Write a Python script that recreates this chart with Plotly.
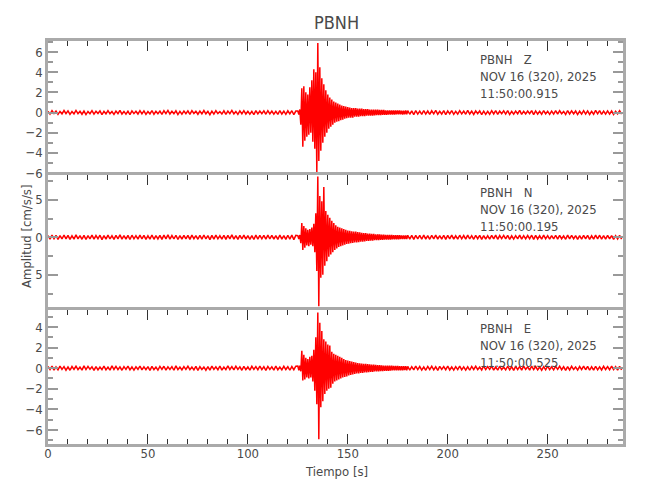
import numpy as np
import plotly.graph_objects as go

# ---------------- data ----------------
STATION = "PBNH"
COMPONENTS = ["Z", "N", "E"]
START_TIMES = ["11:50:00.915", "11:50:00.195", "11:50:00.525"]
DATE_LABEL = "NOV 16 (320), 2025"

PRE_T0, PRE_DT = 0.0, 1.0      # s
EVT_T0, EVT_DT = 125.0, 0.5    # s
POST_T0, POST_DT = 180.0, 1.0  # s

z_pre = [0.12,-0.15,0.18,-0.10,0.14,-0.19,0.11,-0.13,0.20,-0.12,
         0.16,-0.18,0.10,-0.14,0.21,-0.11,0.13,-0.17,0.15,-0.20,
         0.11,-0.12,0.19,-0.16,0.13,-0.10,0.17,-0.21,0.12,-0.14,
         0.18,-0.13,0.10,-0.19,0.15,-0.12,0.22,-0.15,0.11,-0.16,
         0.14,-0.20,0.17,-0.11,0.12,-0.15,0.19,-0.13,0.16,-0.18,
         0.10,-0.14,0.20,-0.17,0.13,-0.12,0.15,-0.19,0.18,-0.11,
         0.21,-0.15,0.12,-0.13,0.17,-0.20,0.11,-0.16,0.14,-0.12,
         0.16,-0.18,0.19,-0.10,0.13,-0.17,0.15,-0.14,0.20,-0.13,
         0.12,-0.21,0.14,-0.16,0.18,-0.11,0.10,-0.15,0.17,-0.19,
         0.15,-0.12,0.21,-0.14,0.11,-0.18,0.16,-0.13,0.19,-0.15,
         0.13,-0.17,0.12,-0.20,0.18,-0.14,0.14,-0.11,0.16,-0.17,
         0.19,-0.13,0.15,-0.16,0.12,-0.19,0.20,-0.15,0.13,-0.18,
         0.17,-0.14,0.18,-0.21,0.15]
z_event = [0.15,-0.20,0.30,-1.20,2.40,-3.40,2.60,-2.80,2.00,-2.40,
           1.80,-2.20,2.50,-2.00,3.20,-2.90,4.30,-3.60,4.00,-5.90,
           6.90,-4.80,4.50,-3.80,3.40,-3.00,2.80,-2.40,2.20,-2.00,
           1.80,-1.60,1.50,-1.40,1.30,-1.20,1.10,-1.00,1.00,-0.90,
           0.90,-0.85,0.80,-0.75,0.70,-0.70,0.65,-0.60,0.60,-0.55,
           0.55,-0.50,0.50,-0.50,0.45,-0.50,0.45,-0.40,0.45,-0.40,
           0.40,-0.40,0.40,-0.35,0.40,-0.35,0.35,-0.35,0.35,-0.30,
           0.35,-0.30,0.30,-0.30,0.30,-0.30,0.30,-0.28,0.28,-0.25,
           0.28,-0.25,0.25,-0.25,0.25,-0.22,0.25,-0.22,0.22,-0.22,
           0.22,-0.20,0.22,-0.20,0.20,-0.20,0.20,-0.20,0.20,-0.18,
           0.20,-0.18,0.20,-0.18,0.18,-0.20,0.18,-0.18,0.20,-0.18]
z_post = [0.19,-0.17,0.16,-0.20,0.18,-0.15,0.14,-0.18,0.20,-0.16,
          0.15,-0.19,0.17,-0.13,0.21,-0.17,0.13,-0.15,0.18,-0.20,
          0.16,-0.14,0.20,-0.18,0.12,-0.16,0.19,-0.13,0.15,-0.17,
          0.21,-0.15,0.13,-0.19,0.17,-0.12,0.16,-0.20,0.14,-0.18,
          0.12,-0.17,0.18,-0.14,0.20,-0.19,0.15,-0.11,0.17,-0.15,
          0.18,-0.20,0.11,-0.16,0.14,-0.13,0.21,-0.18,0.13,-0.14,
          0.15,-0.12,0.19,-0.21,0.16,-0.15,0.12,-0.17,0.20,-0.13,
          0.13,-0.18,0.14,-0.15,0.19,-0.16,0.18,-0.12,0.11,-0.19,
          0.20,-0.14,0.17,-0.13,0.15,-0.20,0.13,-0.16,0.18,-0.15,
          0.16,-0.19,0.12,-0.17,0.21,-0.13,0.19,-0.18,0.14,-0.16,
          0.17,-0.15,0.15,-0.19,0.13,-0.14,0.18,-0.16]

n_pre = [0.22,-0.25,0.28,-0.20,0.24,-0.29,0.21,-0.23,0.30,-0.22,
         0.26,-0.28,0.20,-0.24,0.31,-0.21,0.23,-0.27,0.25,-0.30,
         0.21,-0.22,0.29,-0.26,0.23,-0.20,0.27,-0.31,0.22,-0.24,
         0.28,-0.23,0.20,-0.29,0.25,-0.22,0.32,-0.25,0.21,-0.26,
         0.24,-0.30,0.27,-0.21,0.22,-0.25,0.29,-0.23,0.26,-0.28,
         0.20,-0.24,0.30,-0.27,0.23,-0.22,0.25,-0.29,0.28,-0.21,
         0.31,-0.25,0.22,-0.23,0.27,-0.30,0.21,-0.26,0.24,-0.22,
         0.26,-0.28,0.29,-0.20,0.23,-0.27,0.25,-0.24,0.30,-0.23,
         0.22,-0.31,0.24,-0.26,0.28,-0.21,0.20,-0.25,0.27,-0.29,
         0.25,-0.22,0.31,-0.24,0.21,-0.28,0.26,-0.23,0.29,-0.25,
         0.23,-0.27,0.22,-0.30,0.28,-0.24,0.24,-0.21,0.26,-0.27,
         0.29,-0.23,0.25,-0.26,0.22,-0.29,0.30,-0.25,0.23,-0.28,
         0.27,-0.24,0.28,-0.31,0.25]
n_event = [0.20,-0.25,0.30,-0.80,1.90,-1.70,1.50,-1.40,1.20,-1.10,
           1.00,-1.20,1.10,-1.00,1.30,-1.20,1.80,-2.00,3.20,-4.50,
           8.10,-9.20,5.50,-5.40,4.80,-5.00,6.70,-3.80,3.50,-3.20,
           3.00,-2.60,2.60,-2.30,2.20,-2.00,1.90,-1.70,1.60,-1.50,
           1.40,-1.30,1.30,-1.20,1.20,-1.10,1.10,-1.00,1.00,-0.90,
           0.90,-0.85,0.85,-0.80,0.80,-0.75,0.75,-0.70,0.75,-0.70,
           0.70,-0.65,0.65,-0.60,0.60,-0.60,0.55,-0.55,0.55,-0.50,
           0.50,-0.50,0.50,-0.45,0.45,-0.45,0.45,-0.40,0.40,-0.40,
           0.40,-0.38,0.38,-0.35,0.35,-0.35,0.35,-0.32,0.32,-0.30,
           0.32,-0.30,0.30,-0.30,0.30,-0.28,0.28,-0.28,0.28,-0.26,
           0.26,-0.26,0.26,-0.25,0.25,-0.25,0.25,-0.24,0.24,-0.24]
n_post = [0.27,-0.25,0.24,-0.28,0.26,-0.23,0.25,-0.27,0.29,-0.24,
          0.23,-0.27,0.25,-0.21,0.29,-0.25,0.22,-0.24,0.27,-0.28,
          0.24,-0.22,0.28,-0.26,0.20,-0.24,0.27,-0.21,0.23,-0.25,
          0.29,-0.23,0.21,-0.27,0.25,-0.20,0.24,-0.28,0.22,-0.26,
          0.20,-0.25,0.26,-0.22,0.28,-0.27,0.23,-0.19,0.25,-0.23,
          0.26,-0.28,0.19,-0.24,0.22,-0.21,0.29,-0.26,0.21,-0.22,
          0.23,-0.20,0.27,-0.29,0.24,-0.23,0.20,-0.25,0.28,-0.21,
          0.21,-0.26,0.22,-0.23,0.27,-0.24,0.26,-0.20,0.19,-0.27,
          0.28,-0.22,0.25,-0.21,0.23,-0.28,0.21,-0.24,0.26,-0.23,
          0.24,-0.27,0.20,-0.25,0.29,-0.21,0.27,-0.26,0.22,-0.24,
          0.25,-0.23,0.23,-0.27,0.21,-0.22,0.26,-0.24]

e_pre = [0.17,-0.14,0.20,-0.18,0.12,-0.16,0.21,-0.11,0.15,-0.19,
         0.13,-0.20,0.16,-0.12,0.19,-0.15,0.11,-0.18,0.22,-0.13,
         0.18,-0.11,0.14,-0.21,0.16,-0.17,0.12,-0.14,0.20,-0.16,
         0.11,-0.19,0.22,-0.13,0.17,-0.15,0.13,-0.20,0.15,-0.12,
         0.20,-0.16,0.12,-0.18,0.14,-0.11,0.21,-0.17,0.13,-0.15,
         0.16,-0.21,0.18,-0.14,0.11,-0.19,0.17,-0.12,0.19,-0.18,
         0.13,-0.12,0.15,-0.20,0.22,-0.14,0.12,-0.17,0.16,-0.11,
         0.19,-0.15,0.11,-0.16,0.18,-0.21,0.14,-0.13,0.12,-0.20,
         0.15,-0.18,0.20,-0.12,0.13,-0.16,0.21,-0.19,0.11,-0.14,
         0.22,-0.13,0.16,-0.17,0.19,-0.12,0.13,-0.20,0.17,-0.15,
         0.12,-0.19,0.18,-0.11,0.15,-0.16,0.20,-0.14,0.14,-0.21,
         0.17,-0.12,0.13,-0.18,0.21,-0.15,0.11,-0.17,0.18,-0.13,
         0.14,-0.20,0.16,-0.15,0.19]
e_event = [0.20,-0.20,0.25,-0.30,1.70,-1.20,1.30,-1.10,1.00,-0.90,
           0.90,-1.00,1.10,-0.90,1.20,-1.30,1.80,-2.20,3.00,-3.50,
           5.40,-6.90,4.40,-3.80,3.60,-3.20,2.80,-2.50,2.60,-2.20,
           2.30,-2.00,2.20,-1.90,1.60,-1.50,1.40,-1.30,1.30,-1.20,
           1.20,-1.10,1.10,-1.00,1.00,-0.90,0.90,-0.85,0.80,-0.80,
           0.75,-0.70,0.70,-0.65,0.65,-0.60,0.60,-0.55,0.55,-0.50,
           0.50,-0.50,0.48,-0.45,0.45,-0.45,0.42,-0.40,0.42,-0.40,
           0.40,-0.38,0.38,-0.35,0.35,-0.35,0.35,-0.32,0.32,-0.30,
           0.30,-0.30,0.30,-0.28,0.28,-0.28,0.26,-0.26,0.26,-0.25,
           0.25,-0.25,0.24,-0.24,0.24,-0.22,0.22,-0.22,0.22,-0.20,
           0.22,-0.20,0.20,-0.20,0.20,-0.20,0.20,-0.18,0.20,-0.20]
e_post = [0.18,-0.19,0.15,-0.17,0.20,-0.14,0.16,-0.18,0.13,-0.20,
          0.17,-0.13,0.19,-0.16,0.14,-0.21,0.18,-0.12,0.16,-0.15,
          0.21,-0.17,0.12,-0.19,0.15,-0.14,0.20,-0.16,0.13,-0.18,
          0.14,-0.20,0.17,-0.13,0.19,-0.15,0.11,-0.17,0.21,-0.14,
          0.16,-0.12,0.20,-0.18,0.13,-0.19,0.17,-0.15,0.12,-0.16,
          0.19,-0.15,0.14,-0.21,0.18,-0.13,0.15,-0.19,0.20,-0.12,
          0.13,-0.18,0.21,-0.14,0.16,-0.17,0.12,-0.20,0.15,-0.16,
          0.20,-0.14,0.13,-0.16,0.17,-0.12,0.19,-0.15,0.14,-0.21,
          0.15,-0.17,0.18,-0.13,0.12,-0.19,0.16,-0.14,0.21,-0.15,
          0.17,-0.20,0.14,-0.18,0.19,-0.16,0.13,-0.17,0.18,-0.13,
          0.16,-0.15,0.20,-0.14,0.15,-0.18,0.17,-0.16]

y_tickvals = [[-6, -4, -2, 0, 2, 4, 6], [-5, 0, 5], [-6, -4, -2, 0, 2, 4]]
y_ticktext = [["−6", "−4", "−2", "0", "2", "4", "6"], ["5", "0", "5"],
              ["−6", "−4", "−2", "0", "2", "4"]]
y_minor_dtick = [1, 2.5, 1]
y_ranges = [[-6.2, 7.1], [-9.7, 8.3], [-7.36, 5.65]]
x_range = [0, 287.7]
x_tickvals = [0, 50, 100, 150, 200, 250]

# ---------------- figure ----------------
FONT = "Liberation Sans Narrow, DejaVu Sans Condensed, Arial Narrow, sans-serif"
TXT = "#4a4a4a"
AXC = "#aaaaaa"
W, H = 650, 500
OFF = 8  # the page body margin shifts the figure by this many pixels
# target screen positions of the plot frame
L_PX, R_PX, T_PX, B_PX = 48, 623, 41, 444
ML, MR, MT, MB = L_PX - OFF, W - (R_PX - OFF), T_PX - OFF, H - (B_PX - OFF)
PW, PH = W - ML - MR, H - MT - MB


def px_x(px):
    return (px - L_PX) / PW


def px_y(py):
    return (B_PX - py) / PH


def series(pre, evt, post):
    t = np.concatenate([PRE_T0 + PRE_DT * np.arange(len(pre)),
                        EVT_T0 + EVT_DT * np.arange(len(evt)),
                        POST_T0 + POST_DT * np.arange(len(post))])
    v = np.concatenate([pre, evt, post])
    return t, v


data = [(z_pre, z_event, z_post), (n_pre, n_event, n_post), (e_pre, e_event, e_post)]
domains = [[px_y(175), 1.0], [px_y(310), px_y(175)], [0.0, px_y(310)]]

fig = go.Figure()
for i, (pre, evt, post) in enumerate(data):
    t, v = series(pre, evt, post)
    sfx = "" if i == 0 else str(i + 1)
    fig.add_trace(go.Scatter(x=t, y=v, mode="lines", xaxis="x" + sfx, yaxis="y" + sfx,
                             line=dict(color="#ff0000", width=1.5), showlegend=False,
                             hoverinfo="skip"))

layout = dict(
    width=W, height=H,
    margin=dict(l=ML, r=MR, t=MT, b=MB, autoexpand=False),
    paper_bgcolor="white", plot_bgcolor="white",
    font=dict(family=FONT, color=TXT, size=13),
    showlegend=False,
)

for i in range(3):
    sfx = "" if i == 0 else str(i + 1)
    last = (i == 2)
    xa = dict(
        domain=[0, 1], anchor="y" + sfx, range=x_range, automargin=False,
        showgrid=False, zeroline=False,
        showline=True, linecolor=AXC, linewidth=2.5,
        ticks="inside", ticklen=10, tickwidth=1, tickcolor="#333333",
        tickvals=x_tickvals,
        minor=dict(ticks="inside", ticklen=5, dtick=10, tick0=0, tickcolor="#333333", tickwidth=1, showgrid=False),
        showticklabels=last,
        tickfont=dict(family=FONT, size=13, color=TXT),
    )
    if last:
        xa.update(side="bottom", mirror="ticks", ticklabelstandoff=-4)
    else:
        xa.update(side="top", mirror=False)
        xa["matches"] = "x3"
    ya = dict(
        domain=domains[i], anchor="x" + sfx, range=y_ranges[i], automargin=False,
        showgrid=False, zeroline=False,
        showline=True, linecolor=AXC, linewidth=2.5, mirror="ticks",
        ticks="inside", ticklen=10, tickwidth=1.5, tickcolor="#999999",
        tickvals=y_tickvals[i], ticktext=y_ticktext[i],
        minor=dict(ticks="inside", ticklen=5, dtick=y_minor_dtick[i], tick0=0, tickcolor="#999999", tickwidth=1.5, showgrid=False),
        tickfont=dict(family=FONT, size=13, color=TXT),
    )
    layout["xaxis" + sfx] = xa
    layout["yaxis" + sfx] = ya

fig.update_layout(**layout)

nb = "\u00a0"
block_centers = [76, 210, 345]
for i in range(3):
    txt = f"{STATION}{nb*3}{COMPONENTS[i]}<br>{DATE_LABEL}<br>{START_TIMES[i]}"
    fig.add_annotation(
        xref="paper", yref="paper", x=px_x(478), y=px_y(block_centers[i]),
        xanchor="left", yanchor="middle", align="left", showarrow=False,
        text=txt, font=dict(family=FONT, size=13, color=TXT),
    )

fig.add_annotation(xref="paper", yref="paper", x=px_x(336), y=px_y(22), xanchor="center", yanchor="middle",
                   text=STATION, showarrow=False, font=dict(family=FONT, size=18, color=TXT))
fig.add_annotation(xref="paper", yref="paper", x=px_x(336), y=px_y(471), xanchor="center", yanchor="middle",
                   text=f"Tiempo{nb}[s]", showarrow=False, font=dict(family=FONT, size=13, color=TXT))
fig.add_annotation(xref="paper", yref="paper", x=px_x(26), y=px_y(237), xanchor="center", yanchor="middle",
                   textangle=-90, text=f"Amplitud{nb}[cm/s/s]", showarrow=False,
                   font=dict(family=FONT, size=13, color=TXT))

fig.write_html("out.html")
